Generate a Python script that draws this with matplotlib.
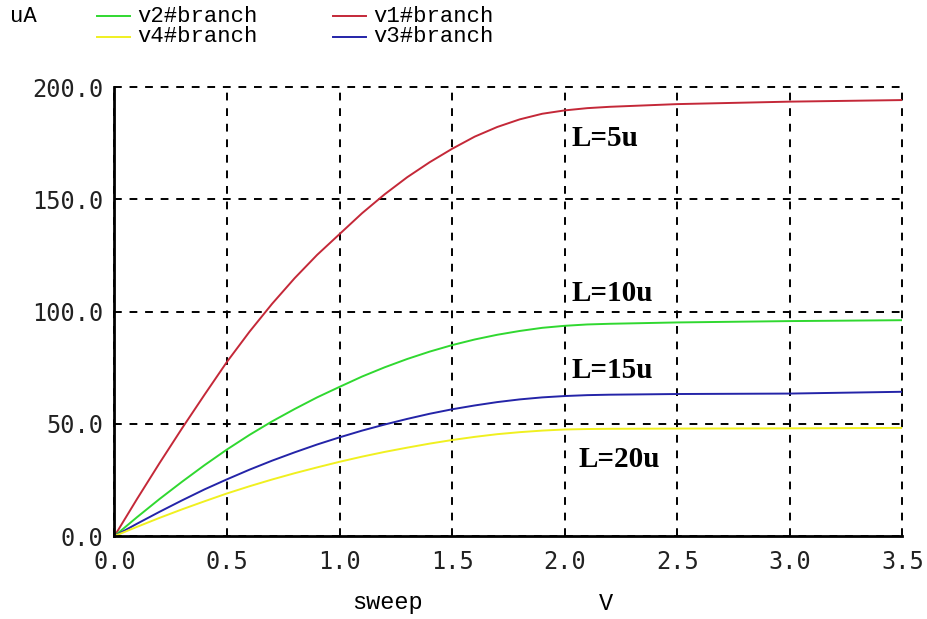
import matplotlib
matplotlib.use("Agg")
import matplotlib.pyplot as plt
from matplotlib.lines import Line2D

# sweep voltage (V) and branch currents (uA)
sweep = [0.0, 0.1, 0.2, 0.3, 0.4, 0.5, 0.6, 0.7, 0.8, 0.9, 1.0, 1.1, 1.2, 1.3,
         1.4, 1.5, 1.6, 1.7, 1.8, 1.9, 2.0, 2.1, 2.2, 2.5, 3.0, 3.5]
v1 = [0, 16.5, 32.5, 48, 63, 77.7, 91.1, 103.5, 114.9, 125.3, 134.6, 143.9, 152.3, 159.9,
      166.6, 172.6, 178, 182.3, 185.7, 188.2, 189.7, 190.7, 191.3, 192.5, 193.6, 194.3]
v2 = [0, 8.4, 16.5, 24.2, 31.6, 38.6, 45.1, 51.1, 56.6, 61.8, 66.5, 71.1, 75.2, 78.9,
      82.2, 85.1, 87.6, 89.7, 91.4, 92.8, 93.7, 94.3, 94.6, 95.2, 95.8, 96.2]
v3 = [0, 5.5, 10.8, 15.9, 20.8, 25.3, 29.6, 33.6, 37.3, 40.8, 44.0, 47.0, 49.7, 52.2,
      54.5, 56.5, 58.2, 59.7, 60.9, 61.8, 62.4, 62.8, 63.0, 63.3, 63.5, 64.3]
v4 = [0, 4.1, 8.1, 11.9, 15.5, 19.0, 22.2, 25.2, 28.0, 30.6, 33.1, 35.4, 37.5, 39.4,
      41.2, 42.8, 44.2, 45.4, 46.3, 47.0, 47.5, 47.7, 47.8, 47.9, 48.0, 48.2]

xticks = [0.0, 0.5, 1.0, 1.5, 2.0, 2.5, 3.0, 3.5]
yticks = [0, 50, 100, 150, 200]

# annotations: (text, x, y)
notes = [("L=5u", 2.03, 177), ("L=10u", 2.03, 108), ("L=15u", 2.03, 74), ("L=20u", 2.06, 34)]

red = "#c42838"
green = "#30d830"
blue = "#2424a8"
yellow = "#f0f020"

fig = plt.figure(figsize=(9.27, 6.19), dpi=100)
ax = fig.add_axes([0.1235, 0.134, 0.85, 0.725])

ax.plot(sweep, v1, color=red, lw=1.4)
ax.plot(sweep, v2, color=green, lw=1.4)
ax.plot(sweep, v3, color=blue, lw=1.4)
ax.plot(sweep, v4, color=yellow, lw=1.4)

ax.set_xlim(0, 3.5)
ax.set_ylim(0, 200)
ax.set_xticks(xticks)
ax.set_yticks(yticks)
tick_font = dict(family="DejaVu Sans Mono", size=17, color="#222222")
ax.set_xticklabels([f"{t:.1f}" for t in xticks], **tick_font)
ax.set_yticklabels([f"{t:.1f}" for t in yticks], **tick_font)
ax.tick_params(axis="x", length=0, pad=10)
ax.tick_params(axis="y", length=0, pad=8)

ax.grid(True, color="black", linestyle=(0, (4, 4)), linewidth=1.4)
ax.spines["top"].set_visible(False)
ax.spines["right"].set_visible(False)
ax.spines["left"].set_linewidth(2)
ax.spines["bottom"].set_linewidth(2)
for g in ax.get_xgridlines() + ax.get_ygridlines():
    g.set_clip_on(False)

for txt, x, y in notes:
    ax.text(x, y, txt, family="Liberation Serif", weight="bold", size=21,
            va="center", ha="left")

# header legend
mono = "Liberation Mono"
fig.text(10 / 927, 1 - 16 / 619, "uA", family=mono, size=16, va="center")
legend_items = [("v2#branch", green, 97, 16), ("v4#branch", yellow, 97, 37),
                ("v1#branch", red, 333, 16), ("v3#branch", blue, 333, 37)]
for name, col, px, py in legend_items:
    yy = 1 - py / 619
    fig.add_artist(Line2D([px / 927, (px + 33) / 927], [yy, yy], color=col, lw=1.4))
    fig.text((px + 40) / 927, yy, name, family=mono, size=16, va="center")

fig.text(387 / 927, 1 - 603 / 619, "sweep", family=mono, size=17, ha="center", va="center")
fig.text(606 / 927, 1 - 603 / 619, "V", family=mono, size=17, ha="center", va="center")

fig.savefig("out.png", dpi=100)
